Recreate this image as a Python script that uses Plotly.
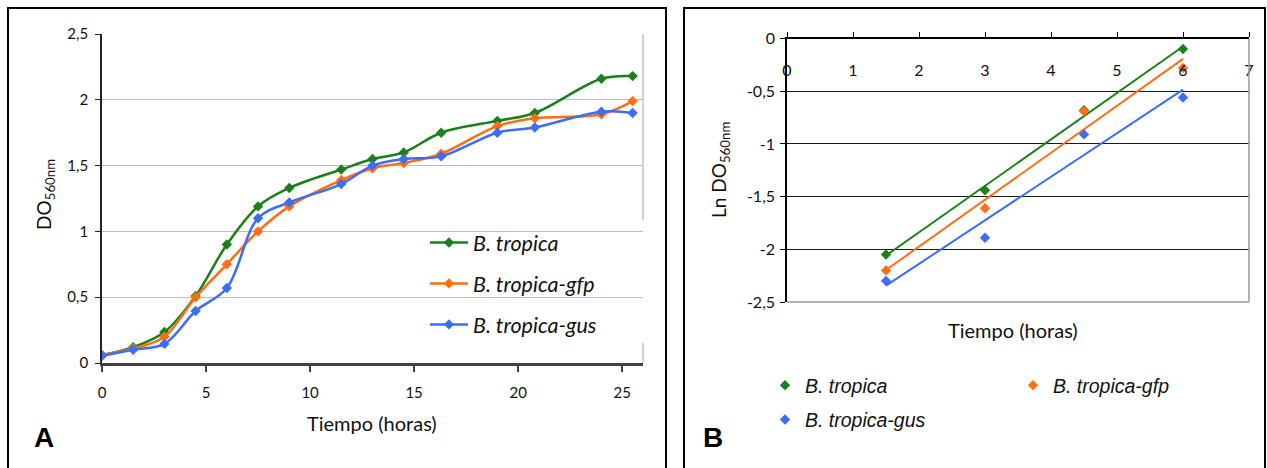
import numpy as np
import plotly.graph_objects as go

W, H = 1267, 468

# ---------------- data: panel A (growth curves) ----------------
tiempo = [0, 1.5, 3, 4.5, 6, 7.5, 9, 11.5, 13, 14.5, 16.3, 19, 20.8, 24, 25.5]
do_tropica = [0.06, 0.12, 0.235, 0.51, 0.90, 1.19, 1.33, 1.47, 1.55, 1.60, 1.75, 1.84, 1.90, 2.16, 2.18]
do_gfp = [0.06, 0.11, 0.20, 0.50, 0.75, 1.00, 1.19, 1.39, 1.48, 1.52, 1.59, 1.80, 1.86, 1.89, 1.99]
do_gus = [0.055, 0.10, 0.145, 0.395, 0.57, 1.10, 1.22, 1.36, 1.50, 1.55, 1.57, 1.75, 1.79, 1.91, 1.90]

# ---------------- data: panel B (ln of exponential phase) ----------------
tiempo_exp = [1.5, 3, 4.5, 6]
ln_tropica = [-2.05, -1.44, -0.68, -0.10]
ln_gfp = [-2.20, -1.61, -0.69, -0.28]
ln_gus = [-2.30, -1.89, -0.91, -0.56]

names = ["B. tropica", "B. tropica-gfp", "B. tropica-gus"]
colors = ["#1B8019", "#FF6E14", "#3D6CF7"]

a_ytick_vals = [0, 0.5, 1, 1.5, 2, 2.5]
a_ytick_text = ["0", "0,5", "1", "1,5", "2", "2,5"]
b_ytick_vals = [-2.5, -2, -1.5, -1, -0.5, 0]
b_ytick_text = ["-2,5", "-2", "-1,5", "-1", "-0,5", "0"]

FONT = "Lato, Carlito, Calibri, sans-serif"
ARIAL = "Liberation Sans, Arial, sans-serif"

def px(x):
    return x / W

def py(y):
    return 1 - y / H

fig = go.Figure()

# Panel A traces
for nm, ys, c in zip(names, [do_tropica, do_gfp, do_gus], colors):
    fig.add_trace(go.Scatter(
        x=tiempo, y=ys, name=nm, mode="lines+markers",
        line=dict(color=c, width=2.5, shape="spline", smoothing=1),
        marker=dict(symbol="diamond", size=8, color=c),
        xaxis="x", yaxis="y", legend="legend", legendgroup="a" + nm,
    ))

# Panel B traces: points + linear trendlines
for i, (nm, ys, c) in enumerate(zip(names, [ln_tropica, ln_gfp, ln_gus], colors)):
    fig.add_trace(go.Scatter(
        x=tiempo_exp, y=ys, name=nm, mode="markers",
        marker=dict(symbol="diamond", size=8, color=c),
        xaxis="x2", yaxis="y2",
        legend="legend3" if i == 1 else "legend2", legendgroup="b" + nm,
    ))
    k, b0 = np.polyfit(tiempo_exp, ys, 1)
    xs = np.array([min(tiempo_exp), max(tiempo_exp)])
    fig.add_trace(go.Scatter(
        x=xs, y=k * xs + b0, mode="lines", showlegend=False,
        line=dict(color=c, width=2), xaxis="x2", yaxis="y2", hoverinfo="skip",
    ))

shapes = [
    dict(type="rect", xref="paper", yref="paper", x0=px(8), x1=px(666), y0=-0.1, y1=py(8),
         line=dict(color="black", width=2), layer="above"),
    dict(type="rect", xref="paper", yref="paper", x0=px(684), x1=px(1265), y0=-0.1, y1=py(8),
         line=dict(color="black", width=2), layer="above"),
    dict(type="line", xref="x domain", yref="y domain", x0=1, x1=1, y0=0, y1=1,
         line=dict(color="#A6A6A6", width=1), layer="below"),
    dict(type="rect", xref="paper", yref="paper", x0=px(397), x1=px(648), y0=py(343), y1=py(220),
         fillcolor="white", line=dict(width=0), layer="between"),
    dict(type="line", xref="x2 domain", yref="y2 domain", x0=0, x1=1, y0=0, y1=0,
         line=dict(color="#9A9A9A", width=1.5), layer="above"),
    dict(type="line", xref="x2 domain", yref="y2 domain", x0=1, x1=1, y0=0, y1=1,
         line=dict(color="#9A9A9A", width=1.5), layer="above"),
]

def ann(text, x, y, font, angle=0):
    return dict(text=text, x=px(x), y=py(y), xref="paper", yref="paper",
                xanchor="center", yanchor="middle", showarrow=False,
                textangle=angle, font=font)

tfont = dict(family=FONT, size=20, color="#111")
yfont = dict(family=FONT, size=19, color="#111")
annotations = [
    ann("Tiempo (horas)", 372, 423, tfont),
    ann("DO<sub>560nm</sub>", 45, 195, yfont, -90),
    ann("Tiempo (horas)", 1013, 330, tfont),
    ann("Ln DO<sub>560nm</sub>", 720, 170, yfont, -90),
    ann("<b>A</b>", 44, 437, dict(family=ARIAL, size=28, color="black")),
    ann("<b>B</b>", 713, 437, dict(family=ARIAL, size=28, color="black")),
]

fig.update_layout(
    template="none",
    width=W, height=H,
    margin=dict(l=0, r=0, t=0, b=0, pad=0),
    autosize=False,
    paper_bgcolor="white", plot_bgcolor="white",
    separators=", ",
    showlegend=True,
    xaxis=dict(
        domain=[px(102), px(643)], range=[0, 26], dtick=5, tick0=0, automargin=False,
        ticks="outside", ticklen=6, tickwidth=1.5, tickcolor="#404040",
        showline=True, linecolor="#404040", linewidth=2.5,
        showgrid=False, zeroline=False, anchor="y",
        tickfont=dict(family=FONT, size=15, color="#111"), ticklabelstandoff=8,
    ),
    yaxis=dict(
        domain=[py(363), py(34)], range=[0, 2.5], automargin=False,
        tickvals=a_ytick_vals, ticktext=a_ytick_text,
        ticks="outside", ticklen=5, tickcolor="#222",
        showline=True, linecolor="#222", linewidth=1.8,
        showgrid=True, gridcolor="#BEBEBE", gridwidth=1,
        zeroline=False, anchor="x", ticklabelstandoff=4,
        tickfont=dict(family=FONT, size=15, color="#111"),
    ),
    xaxis2=dict(
        domain=[px(787), px(1249)], range=[0, 7], dtick=1, tick0=0, automargin=False,
        side="top", ticks="outside", ticklen=5, tickcolor="black",
        ticklabelposition="inside", ticklabeloverflow="allow", ticklabelstandoff=27,
        showline=True, linecolor="black", linewidth=1.5,
        showgrid=False, zeroline=False, anchor="y2",
        tickfont=dict(family=FONT, size=16, color="#111"),
    ),
    yaxis2=dict(
        domain=[py(302), py(38.5)], range=[-2.5, 0], automargin=False,
        tickvals=b_ytick_vals, ticktext=b_ytick_text,
        ticks="outside", ticklen=5, tickcolor="black",
        showline=True, linecolor="black", linewidth=1.5,
        showgrid=True, gridcolor="#1A1A1A", gridwidth=1,
        zeroline=False, anchor="x2", ticklabelstandoff=2,
        tickfont=dict(family=FONT, size=16, color="#111"),
    ),
    legend=dict(
        x=px(425), y=py(222), xanchor="left", yanchor="top",
        bgcolor="rgba(0,0,0,0)", tracegroupgap=10, itemwidth=38,
        font=dict(family=FONT, size=21.5, color="#111", style="italic"),
    ),
    legend2=dict(
        x=px(765), y=py(366), xanchor="left", yanchor="top",
        bgcolor="rgba(0,0,0,0)", tracegroupgap=6,
        font=dict(family=ARIAL, size=19.5, color="#111", style="italic"),
    ),
    legend3=dict(
        x=px(1013), y=py(366), xanchor="left", yanchor="top",
        bgcolor="rgba(0,0,0,0)",
        font=dict(family=ARIAL, size=19.5, color="#111", style="italic"),
    ),
    shapes=shapes,
    annotations=annotations,
)

fig.write_html("out.html")
